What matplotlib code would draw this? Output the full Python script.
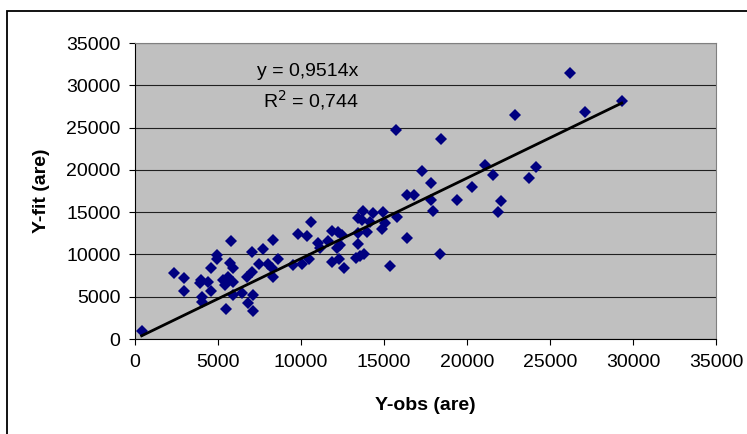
import numpy as np
import matplotlib.pyplot as plt
from matplotlib.patches import Rectangle

y_obs = [400, 2370, 2970, 2970, 3980, 3920, 4420, 4580, 4020, 4050,
         4580, 4920, 4920, 5780, 5720, 5920, 5320, 5620, 5920, 5420,
         5920, 6460, 7130, 6830, 5480, 7130, 6730, 7070, 7030, 7730,
         8330, 7490, 8030, 8630, 8330, 9540, 10040, 10500, 9840, 10340,
         10580, 11040, 11140, 11640, 11850, 12250, 12450, 12150, 12350, 11850,
         12310, 12590, 8250, 13310, 13550, 13800, 13420, 13420, 13750, 13660,
         14360, 14920, 14160, 15060, 14860, 13960, 13450, 15770, 16400, 15360,
         18370, 15700, 18420, 17270, 17830, 16400, 16810, 17830, 17930, 19420,
         20280, 21080, 21580, 22050, 21890, 23740, 24140, 22890, 26200, 27130,
         29320]
y_fit = [900, 7800, 7180, 5710, 6980, 6620, 6780, 5710, 5000, 4410,
         8360, 9930, 9420, 11620, 8950, 8360, 6980, 7370, 6780, 6390,
         5200, 5400, 5200, 4260, 3510, 3350, 7330, 7960, 10320, 10610,
         11710, 8830, 8830, 9420, 7370, 8750, 8830, 9420, 12420, 12180,
         13870, 11320, 10800, 11590, 12770, 12620, 12300, 10720, 11120, 9140,
         9420, 8360, 8400, 9610, 9810, 10050, 11230, 14270, 15170, 14070,
         14860, 15050, 13870, 13750, 12970, 12690, 12500, 14390, 12000, 8670,
         10020, 24710, 23650, 19900, 18500, 17030, 17030, 16440, 15130, 16440,
         17940, 20570, 19390, 16280, 14980, 19040, 20370, 26450, 31420, 26840,
         28140]

slope = 0.9514
r2_text = "0,744"
x_ticks = [0, 5000, 10000, 15000, 20000, 25000, 30000, 35000]

FONT = "Liberation Sans"
plt.rcParams["font.family"] = FONT
plt.rcParams["font.size"] = 14

fig = plt.figure(figsize=(7.47, 4.34), dpi=100)
ax = fig.add_axes([135 / 747, 1 - 339 / 434, 581 / 747, 296 / 434])
ax.set_facecolor("#C0C0C0")

# outer chart border (cropped at right and bottom in the original)
fig.patches.append(Rectangle((7 / 747, -0.1), 1.2, 1 - 11 / 434 + 0.1,
                             transform=fig.transFigure, fill=False,
                             edgecolor="#000000", linewidth=1.3))

ax.plot(y_obs, y_fit, linestyle="none", marker="D", markersize=5.8,
        color="#000080", markeredgewidth=0, zorder=3)

x_line = np.array([min(y_obs), max(y_obs)])
ax.plot(x_line, slope * x_line, color="black", linewidth=2.0, zorder=4)

ax.set_xlim(0, 35000)
ax.set_ylim(0, 35000)
ax.set_xticks(x_ticks)
ax.set_yticks(x_ticks)
ax.yaxis.grid(True, color="#202020", linewidth=0.8)
ax.set_axisbelow(True)

for side in ["top", "right"]:
    ax.spines[side].set_color("#808080")
ax.spines["left"].set_color("black")
ax.spines["bottom"].set_color("black")
ax.tick_params(direction="out", length=4.5, width=0.8, colors="black")
ax.tick_params(axis="x", pad=6)
ax.tick_params(axis="y", pad=6)

ax.set_xlabel("Y-obs (are)", fontweight="bold", va="center")
ax.set_ylabel("Y-fit (are)", fontweight="bold", va="center")
ax.xaxis.set_label_coords(0.5, (339 - 405) / 296)
ax.yaxis.set_label_coords((42 - 135) / 581, 0.5)

fig.text(308 / 747, 1 - 72 / 434, "y = %sx" % str(slope).replace(".", ","),
         ha="center", va="center")
fig.text(311 / 747, 1 - 100 / 434, "R$^2$ = " + r2_text,
         ha="center", va="center")

fig.savefig("out.png", dpi=100)
